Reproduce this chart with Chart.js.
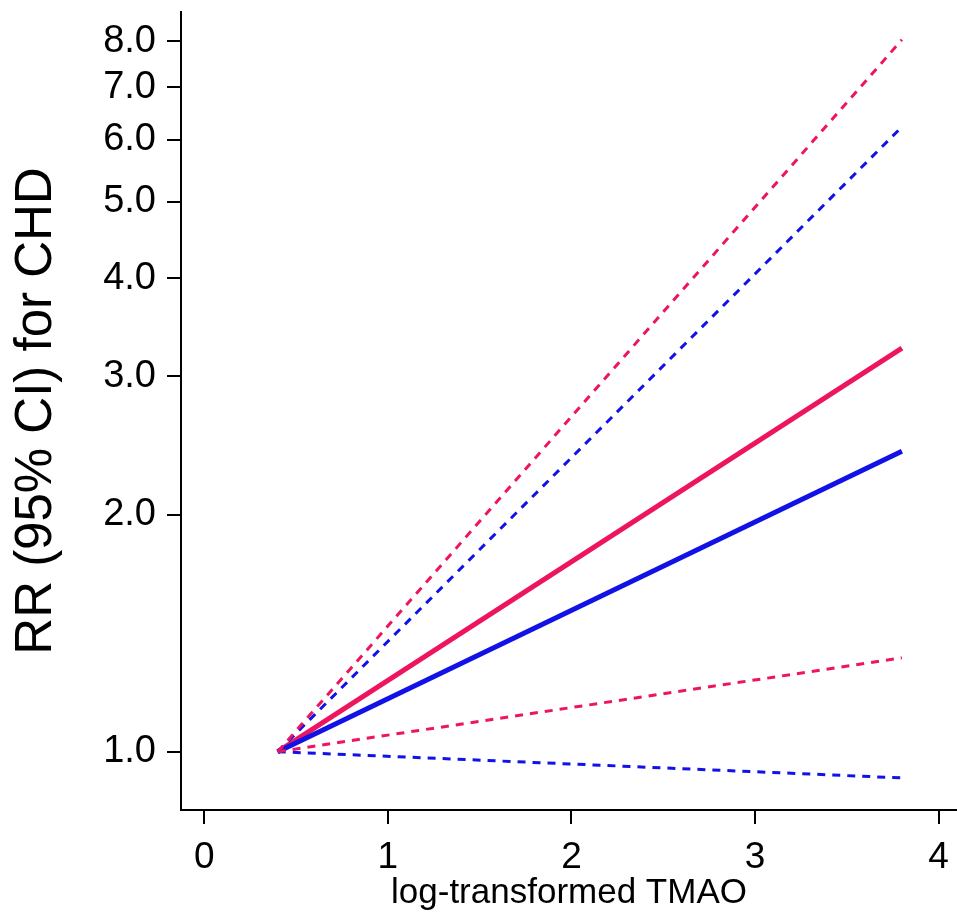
<!DOCTYPE html>
<html>
<head>
<meta charset="utf-8">
<script src="https://cdn.jsdelivr.net/npm/chart.js@4"></script>
<style>
  body { margin: 0; background: #fff; }
  #wrap { width: 957px; height: 914px; }
</style>
</head>
<body>
<div id="wrap"><canvas id="rrChart"></canvas></div>
<script>
// log-transformed TMAO, start and end of each fitted line
const tmao = [0.4, 3.8];

// pink group: estimate and 95% CI
const pinkRR = [1.0, 3.26];
const pinkLower = [1.0, 1.316];
const pinkUpper = [1.0, 8.04];

// blue group: estimate and 95% CI
const blueRR = [1.0, 2.41];
const blueLower = [1.0, 0.926];
const blueUpper = [1.0, 6.23];

const xTicks = [0, 1, 2, 3, 4];
const yTicks = [1, 2, 3, 4, 5, 6, 7, 8];

const pink = '#EE1560';
const blue = '#1212E6';
const font = 'Liberation Sans, Arial, sans-serif';

function pts(ys) {
  return tmao.map((x, i) => ({ x: x, y: ys[i] }));
}

function line(ys, color, dashed) {
  return {
    data: pts(ys),
    borderColor: color,
    borderWidth: dashed ? 3 : 5,
    borderDash: dashed ? [8, 7] : [],
    pointRadius: 0,
    fill: false,
    tension: 0
  };
}

const ctx = document.getElementById('rrChart').getContext('2d');

new Chart(ctx, {
  type: 'line',
  data: {
    datasets: [
      line(pinkUpper, pink, true),
      line(blueUpper, blue, true),
      line(pinkLower, pink, true),
      line(blueLower, blue, true),
      line(blueRR, blue, false),
      line(pinkRR, pink, false)
    ]
  },
  options: {
    responsive: true,
    maintainAspectRatio: false,
    animation: false,
    layout: { padding: { top: 12, right: 0, left: 0, bottom: 0 } },
    plugins: {
      legend: { display: false },
      tooltip: { enabled: false }
    },
    scales: {
      x: {
        type: 'linear',
        min: -0.127,
        max: 4.1,
        afterBuildTicks: s => { s.ticks = xTicks.map(v => ({ value: v })); },
        afterFit: s => { s.height = 104; s.paddingLeft = 0; s.paddingRight = 0; },
        ticks: {
          color: '#000',
          font: { family: font, size: 37 },
          padding: 12,
          maxRotation: 0,
          callback: v => String(v)
        },
        grid: {
          drawOnChartArea: false,
          drawTicks: true,
          tickLength: 14,
          color: '#000',
          lineWidth: 2
        },
        border: { display: true, color: '#000', width: 2 },
        title: {
          display: true,
          text: 'log-transformed TMAO',
          color: '#000',
          font: { family: font, size: 35, lineHeight: 1.2 },
          padding: { top: 0, bottom: 0 }
        }
      },
      y: {
        type: 'logarithmic',
        min: 0.843,
        max: 8.72,
        afterBuildTicks: s => { s.ticks = yTicks.map(v => ({ value: v })); },
        afterFit: s => { s.width = 181; s.paddingTop = 0; s.paddingBottom = 0; },
        ticks: {
          color: '#000',
          font: { family: font, size: 38 },
          padding: 11,
          callback: v => Number(v).toFixed(1)
        },
        grid: {
          drawOnChartArea: false,
          drawTicks: true,
          tickLength: 14,
          color: '#000',
          lineWidth: 2
        },
        border: { display: true, color: '#000', width: 2 },
        title: {
          display: true,
          text: 'RR (95% CI) for CHD',
          color: '#000',
          font: { family: font, size: 51, lineHeight: 1.2 },
          padding: { top: 6, bottom: 0 }
        }
      }
    }
  }
});
</script>
</body>
</html>
